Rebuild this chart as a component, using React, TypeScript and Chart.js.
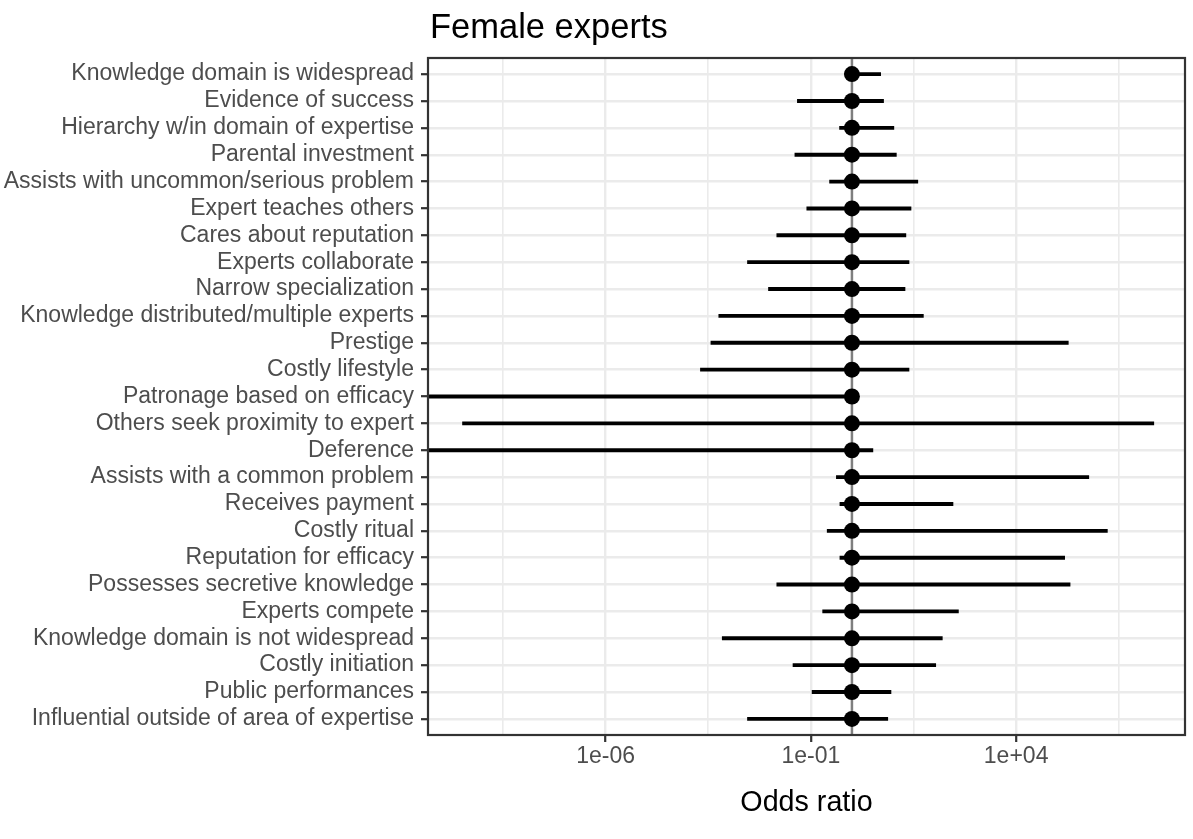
import React, { useEffect, useRef } from 'react';
import { Chart, registerables } from 'chart.js';

Chart.register(...registerables);

const FONT = '"Liberation Sans", Arial, Helvetica, sans-serif';

const categories = [
  'Knowledge domain is widespread',
  'Evidence of success',
  'Hierarchy w/in domain of expertise',
  'Parental investment',
  'Assists with uncommon/serious problem',
  'Expert teaches others',
  'Cares about reputation',
  'Experts collaborate',
  'Narrow specialization',
  'Knowledge distributed/multiple experts',
  'Prestige',
  'Costly lifestyle',
  'Patronage based on efficacy',
  'Others seek proximity to expert',
  'Deference',
  'Assists with a common problem',
  'Receives payment',
  'Costly ritual',
  'Reputation for efficacy',
  'Possesses secretive knowledge',
  'Experts compete',
  'Knowledge domain is not widespread',
  'Costly initiation',
  'Public performances',
  'Influential outside of area of expertise',
];

const estimate = [1, 1, 1, 1, 1, 1, 1, 1, 1, 1, 1, 1, 1, 1, 1, 1, 1, 1, 1, 1, 1, 1, 1, 1, 1];

const lower = [
  0.76, 0.046, 0.49, 0.040, 0.28, 0.078, 0.0145, 0.0028, 0.0091, 5.6e-4,
  3.6e-4, 2.0e-4, 1e-20, 3.2e-10, 1e-20, 0.41, 0.50, 0.245, 0.50, 0.0145,
  0.19, 6.8e-4, 0.036, 0.105, 0.0028,
];

const upper = [
  5.1, 6.0, 10.7, 12.3, 41, 28, 21, 25, 20, 56,
  1.9e5, 25, 1.07, 2.3e7, 3.3, 6.0e5, 295, 1.7e6, 1.55e5, 2.1e5,
  400, 162, 112, 9.1, 7.6,
];

const majorTicks = [1e-6, 1e-1, 1e4];
const majorTickLabels = ['1e-06', '1e-01', '1e+04'];
const minorTicks = [3.162e-9, 3.162e-4, 31.62, 3.162e6];

const xMin = 4.7e-11;
const xMax = 1.3e8;
const refValue = 1;

const titleText = 'Female experts';
const xTitle = 'Odds ratio';

export default function App() {
  const canvasRef = useRef<HTMLCanvasElement | null>(null);

  useEffect(() => {
    const canvas = canvasRef.current;
    if (!canvas) return;

    const errorSets = categories.map((_, i) => ({
      type: 'scatter' as const,
      data: [
        { x: lower[i], y: i },
        { x: upper[i], y: i },
      ],
      showLine: true,
      borderColor: '#000000',
      borderWidth: 3.9,
      borderCapStyle: 'butt' as const,
      pointRadius: 0,
      pointHoverRadius: 0,
      order: 2,
    }));

    const pointSet = {
      type: 'scatter' as const,
      data: categories.map((_, i) => ({ x: estimate[i], y: i })),
      showLine: false,
      pointRadius: 8,
      pointHoverRadius: 8,
      pointBackgroundColor: '#000000',
      pointBorderWidth: 0,
      borderWidth: 0,
      order: 1,
    };

    const decor = {
      id: 'decor',
      beforeDatasetsDraw(chart: any) {
        const { ctx, chartArea, scales } = chart;
        const x = scales.x.getPixelForValue(refValue);
        ctx.save();
        ctx.strokeStyle = '#7F7F7F';
        ctx.lineWidth = 2.5;
        ctx.beginPath();
        ctx.moveTo(x, chartArea.top);
        ctx.lineTo(x, chartArea.bottom);
        ctx.stroke();
        ctx.restore();
      },
      afterDraw(chart: any) {
        const { ctx, chartArea } = chart;
        ctx.save();
        ctx.strokeStyle = '#333333';
        ctx.lineWidth = 2.2;
        ctx.strokeRect(
          chartArea.left,
          chartArea.top,
          chartArea.right - chartArea.left,
          chartArea.bottom - chartArea.top
        );
        ctx.fillStyle = '#000000';
        ctx.font = `34.5px ${FONT}`;
        ctx.textAlign = 'left';
        ctx.textBaseline = 'alphabetic';
        ctx.fillText(titleText, chartArea.left + 2, 38);
        ctx.restore();
      },
    };

    const chart = new Chart(canvas, {
      type: 'scatter',
      data: { datasets: [pointSet, ...errorSets] as any },
      options: {
        animation: false,
        responsive: false,
        devicePixelRatio: 1,
        layout: { padding: { top: 58, right: 6, bottom: 0, left: 0 } },
        plugins: {
          legend: { display: false },
          tooltip: { enabled: false },
          title: { display: false },
        },
        scales: {
          x: {
            type: 'logarithmic',
            min: xMin,
            max: xMax,
            afterBuildTicks: (axis: any) => {
              const t = [
                ...minorTicks.map((v) => ({ value: v, major: false })),
                ...majorTicks.map((v) => ({ value: v, major: true })),
              ];
              t.sort((a, b) => a.value - b.value);
              axis.ticks = t;
            },
            afterFit: (axis: any) => {
              axis.height = 104;
            },
            border: { display: false },
            grid: {
              color: '#EBEBEB',
              lineWidth: (ctx: any) => (ctx.tick && ctx.tick.major ? 2.4 : 1.6),
              tickColor: (ctx: any) =>
                ctx.tick && ctx.tick.major ? '#333333' : 'rgba(0,0,0,0)',
              tickLength: 7,
              tickWidth: 2.2,
            },
            ticks: {
              autoSkip: false,
              maxRotation: 0,
              minRotation: 0,
              padding: 1,
              color: '#4D4D4D',
              font: { family: FONT, size: 23 },
              callback: (value: any) => {
                const k = majorTicks.indexOf(Number(value));
                return k >= 0 ? majorTickLabels[k] : '';
              },
            },
            title: {
              display: true,
              text: xTitle,
              color: '#000000',
              font: { family: FONT, size: 28.7 },
              padding: { top: 0, bottom: 19 },
            },
          },
          y: {
            type: 'linear',
            reverse: true,
            min: -0.6,
            max: categories.length - 1 + 0.6,
            afterBuildTicks: (axis: any) => {
              axis.ticks = categories.map((_, i) => ({ value: i }));
            },
            afterFit: (axis: any) => {
              axis.width = 428;
            },
            border: { display: false },
            grid: {
              color: '#EBEBEB',
              lineWidth: 2.4,
              tickColor: '#333333',
              tickLength: 7,
              tickWidth: 2.2,
            },
            ticks: {
              autoSkip: false,
              padding: 7,
              color: '#4D4D4D',
              font: { family: FONT, size: 23 },
              callback: (value: any) => categories[Number(value)] ?? '',
            },
          },
        },
      },
      plugins: [decor],
    });

    return () => {
      chart.destroy();
    };
  }, []);

  return (
    <div
      style={{
        position: 'fixed',
        left: 0,
        top: 0,
        width: 1193,
        height: 839,
        background: '#ffffff',
      }}
    >
      <canvas
        ref={canvasRef}
        width={1193}
        height={839}
        style={{ width: '1193px', height: '839px', display: 'block' }}
      />
    </div>
  );
}
